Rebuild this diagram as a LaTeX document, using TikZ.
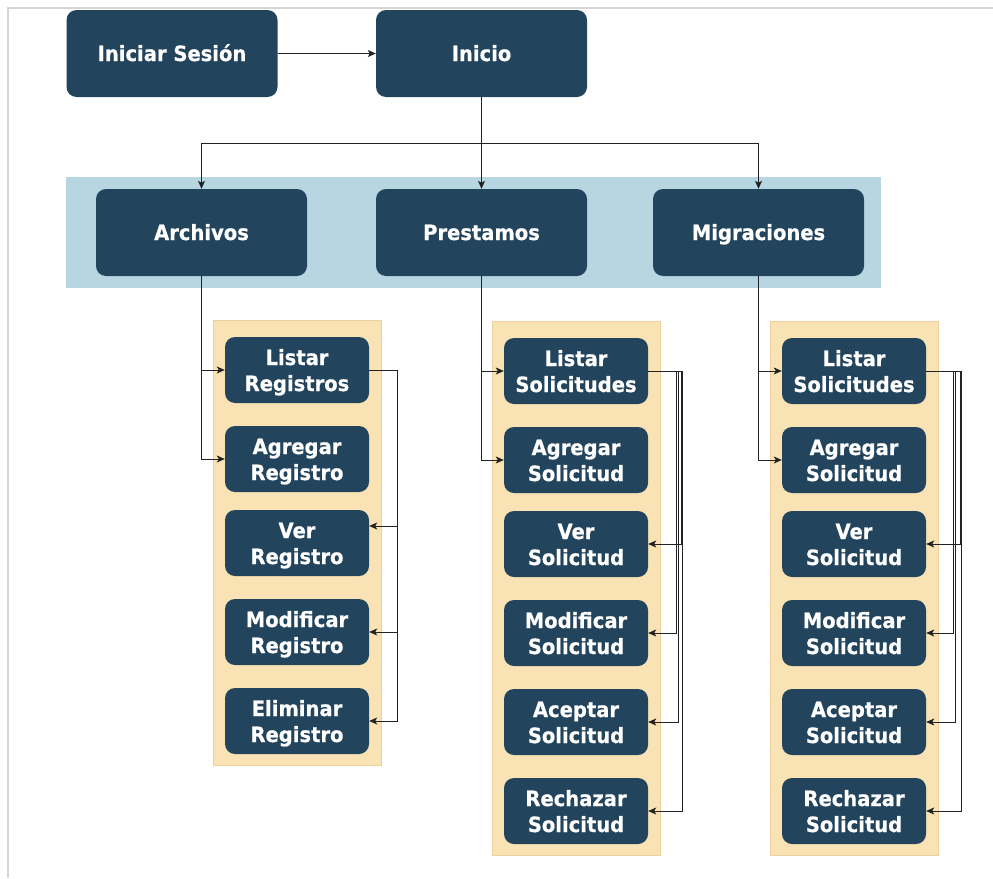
\documentclass[tikz,border=0pt]{standalone}
\usepackage{fontspec}
\setmainfont{DejaVu Sans}
\newfontfamily\boxfont{DejaVuSans-Bold.ttf}[FakeBold=0.6, FakeStretch=0.93]
\usetikzlibrary{arrows.meta,calc}

\definecolor{navy}{HTML}{23445D}
\definecolor{band}{HTML}{B8D6E1}
\definecolor{panel}{HTML}{F9E3B5}
\definecolor{panelline}{HTML}{EDD09B}
\definecolor{frameline}{HTML}{D6D6D6}
\definecolor{wire}{HTML}{222222}

\tikzset{
  menubox/.style={rounded corners=10pt, fill=navy, text=white, align=center,
    inner sep=0pt, font=\boxfont\fontsize{21}{26}\selectfont},
  mainbox/.style={menubox, minimum width=211pt, minimum height=87pt,
    text height=15pt, text depth=-4pt},
  subbox/.style={menubox, minimum width=144pt, minimum height=66pt,
    text height=42pt, text depth=-1pt},
  arr/.style={draw=wire, line width=0.9pt, -{Stealth[length=8pt,width=7pt,inset=2pt]}},
  panelbox/.style={fill=panel, draw=panelline, line width=0.8pt}
}

\begin{document}
\begin{tikzpicture}[x=1pt,y=-1pt]
\useasboundingbox (0,0) rectangle (993,878);

% page frame
\draw[frameline, line width=1.5pt] (8,878) -- (8,8) -- (993,8);

% backgrounds
\fill[band] (66,177) rectangle (881,288);
\draw[panelbox] (213,320) rectangle (381,765);
\draw[panelbox] (492,321) rectangle (660,855);
\draw[panelbox] (770,321) rectangle (938,855);

% top level
\node[mainbox] (login) at (172,53.5) {Iniciar Sesión};
\node[mainbox] (inicio) at (481.5,53.5) {Inicio};

% modules
\node[mainbox] (archivos) at (201.5,232.5) {Archivos};
\node[mainbox] (prestamos) at (481.5,232.5) {Prestamos};
\node[mainbox] (migraciones) at (758.5,232.5) {Migraciones};

% Archivos operations
\node[subbox] (a1) at (297,370) {Listar\\Registros};
\node[subbox] (a2) at (297,459) {Agregar\\Registro};
\node[subbox] (a3) at (297,543) {Ver\\Registro};
\node[subbox] (a4) at (297,632) {Modificar\\Registro};
\node[subbox] (a5) at (297,721) {Eliminar\\Registro};

% Prestamos operations
\node[subbox] (p1) at (576,371) {Listar\\Solicitudes};
\node[subbox] (p2) at (576,460) {Agregar\\Solicitud};
\node[subbox] (p3) at (576,544) {Ver\\Solicitud};
\node[subbox] (p4) at (576,633) {Modificar\\Solicitud};
\node[subbox] (p5) at (576,722) {Aceptar\\Solicitud};
\node[subbox] (p6) at (576,811) {Rechazar\\Solicitud};

% Migraciones operations
\node[subbox] (m1) at (854,371) {Listar\\Solicitudes};
\node[subbox] (m2) at (854,460) {Agregar\\Solicitud};
\node[subbox] (m3) at (854,544) {Ver\\Solicitud};
\node[subbox] (m4) at (854,633) {Modificar\\Solicitud};
\node[subbox] (m5) at (854,722) {Aceptar\\Solicitud};
\node[subbox] (m6) at (854,811) {Rechazar\\Solicitud};

% top connectors
\draw[arr] (login) -- (inicio);
\coordinate (hub) at ($(inicio.south)!0.5!(prestamos.north)$);
\draw[arr] (inicio.south) -- (prestamos.north);
\draw[arr] (hub) -| (archivos.north);
\draw[arr] (hub) -| (migraciones.north);

% module -> first two operations
\draw[arr] (archivos.south) |- (a1.west);
\draw[arr] (archivos.south) |- (a2.west);
\draw[arr] (prestamos.south) |- (p1.west);
\draw[arr] (prestamos.south) |- (p2.west);
\draw[arr] (migraciones.south) |- (m1.west);
\draw[arr] (migraciones.south) |- (m2.west);

% listing -> remaining operations (Archivos)
\draw[arr] (a1.east) -- ++(28,0) |- ($(a3.east)+(0,-17)$);
\draw[arr] (a1.east) -- ++(28,0) |- (a4.east);
\draw[arr] (a1.east) -- ++(28,0) |- (a5.east);

% listing -> remaining operations (Prestamos)
\draw[arr] (p1.east) -- ++(33,0) |- (p3.east);
\draw[arr] (p1.east) -- ++(28,0) |- (p4.east);
\draw[arr] (p1.east) -- ++(30,0) |- (p5.east);
\draw[arr] (p1.east) -- ++(34,0) |- (p6.east);

% listing -> remaining operations (Migraciones)
\draw[arr] (m1.east) -- ++(34,0) |- (m3.east);
\draw[arr] (m1.east) -- ++(27,0) |- (m4.east);
\draw[arr] (m1.east) -- ++(29,0) |- (m5.east);
\draw[arr] (m1.east) -- ++(35,0) |- (m6.east);
\end{tikzpicture}
\end{document}
